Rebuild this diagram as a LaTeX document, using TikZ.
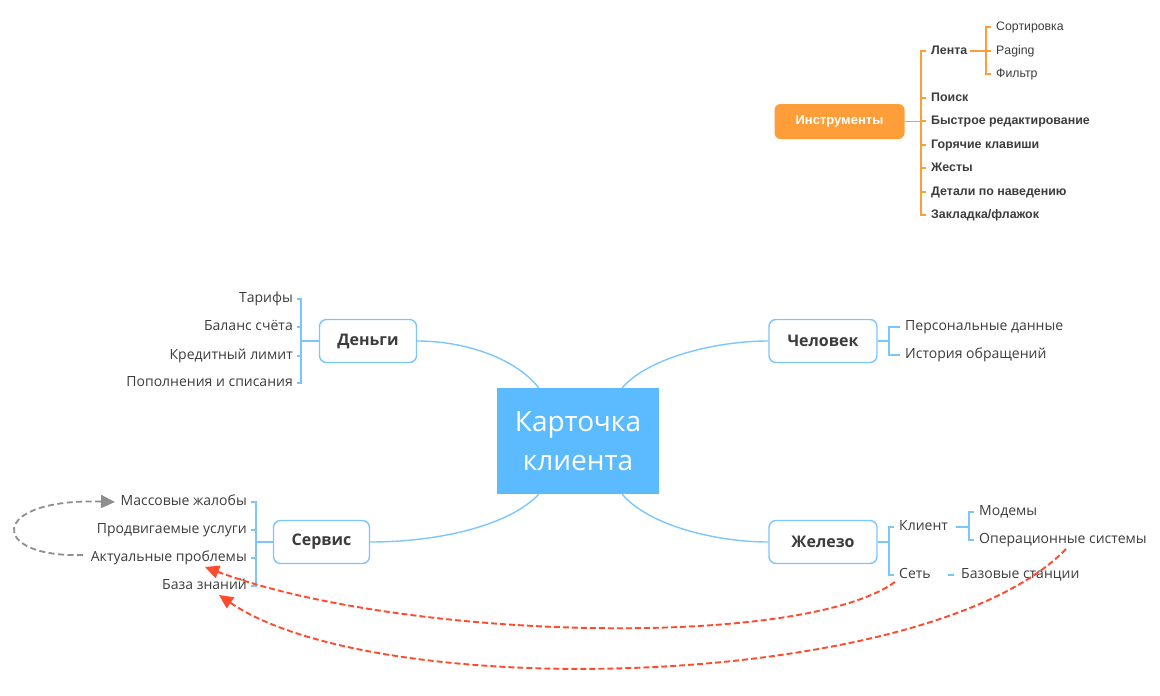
\documentclass[tikz,border=0pt]{standalone}
\usepackage{fontspec}
\setmainfont{Open Sans}
\newfontfamily\arialf{Liberation Sans}
\usetikzlibrary{arrows.meta}
\definecolor{bl}{HTML}{7CC6FF}
\definecolor{blfill}{HTML}{5CBBFF}
\definecolor{txt}{HTML}{3C3C3C}
\definecolor{org}{HTML}{FF9D38}
\definecolor{redl}{HTML}{FF4A2E}
\definecolor{grl}{HTML}{8E8E8E}
\begin{document}
\begin{tikzpicture}[x=1pt,y=-1pt,
  mainbox/.style={draw=bl, line width=1.4pt, rounded corners=7pt, fill=white, minimum height=43pt, text=txt, font=\bfseries\fontsize{16}{18}\selectfont, inner sep=0pt},
  item/.style={inner sep=0pt, text=txt, font=\fontsize{14}{16}\selectfont, text height=0.7em, text depth=0pt},
  oitem/.style={inner sep=0pt, text=txt, font=\arialf\bfseries\fontsize{12.4}{14}\selectfont, text height=0.72em, text depth=0pt},
  osub/.style={inner sep=0pt, text=txt, font=\arialf\fontsize{12.3}{14}\selectfont, text height=0.72em, text depth=0pt},
  bline/.style={draw=bl, line width=1.4pt},
  oline/.style={draw=org, line width=1.4pt},
  reddash/.style={draw=redl, line width=1.9pt, dash pattern=on 6pt off 3pt, -{Triangle[length=14pt,width=13pt]}},
  graydash/.style={draw=grl, line width=1.8pt, dash pattern=on 6pt off 3.5pt, -{Triangle[length=14pt,width=13pt]}}
]
\useasboundingbox (0,0) rectangle (1160,696);

% central
\node[fill=blfill, minimum width=162pt, minimum height=106pt, text=white, font=\fontsize{28}{39}\selectfont, align=center, inner sep=0pt] (card) at (578,441) {Карточка\\клиента};

% main boxes
\node[mainbox, minimum width=97pt] (dengi) at (368,341) {Деньги};
\node[mainbox, minimum width=108pt] (chel) at (823,341) {Человек};
\node[mainbox, minimum width=96pt] (serv) at (321.5,542) {Сервис};
\node[mainbox, minimum width=108pt] (zhel) at (823,542) {Железо};

% connectors from center
\draw[bline] ([xshift=42pt]card.north west) .. controls (515,358) and (465,341) .. (dengi.east);
\draw[bline] ([xshift=-37pt]card.north east) .. controls (648,358) and (715,341) .. (chel.west);
\draw[bline] ([xshift=42pt]card.south west) .. controls (510,525) and (440,542) .. (serv.east);
\draw[bline] ([xshift=-37pt]card.south east) .. controls (648,525) and (715,542) .. (zhel.west);

% Деньги items
\node[item, anchor=east] (d1) at (293,299) {Тарифы};
\node[item, anchor=east] (d2) at (293,327) {Баланс счёта};
\node[item, anchor=east] (d3) at (293,356) {Кредитный лимит};
\node[item, anchor=east] (d4) at (293,383) {Пополнения и списания};
\coordinate (dj) at (301,341);
\draw[bline] (dengi.west) -- (dj);
\draw[bline] ([xshift=4pt]d1.east) -| (dj) |- ([xshift=4pt]d4.east);
\draw[bline] ([xshift=4pt]d2.east) -- (d2.east -| dj);
\draw[bline] ([xshift=4pt]d3.east) -- (d3.east -| dj);

% Человек items
\node[item, anchor=west] (c1) at (905,327) {Персональные данные};
\node[item, anchor=west] (c2) at (905,355) {История обращений};
\coordinate (cj) at (889,341);
\draw[bline] (chel.east) -- (cj);
\draw[bline] ([xshift=-5pt]c1.west) -| (cj) |- ([xshift=-5pt]c2.west);

% Сервис items
\node[item, anchor=east] (s1) at (247,502) {Массовые жалобы};
\node[item, anchor=east] (s2) at (247,530) {Продвигаемые услуги};
\node[item, anchor=east] (s3) at (247,558) {Актуальные проблемы};
\node[item, anchor=east] (s4) at (247,586) {База знаний};
\coordinate (sj) at (256,542);
\draw[bline] (serv.west) -- (sj);
\draw[bline] ([xshift=4pt]s1.east) -| (sj) |- ([xshift=4pt]s4.east);
\draw[bline] ([xshift=4pt]s2.east) -- (s2.east -| sj);
\draw[bline] ([xshift=4pt]s3.east) -- (s3.east -| sj);

% Железо items
\node[item, anchor=west] (z1) at (899,527) {Клиент};
\node[item, anchor=west] (z2) at (899,575) {Сеть};
\coordinate (zj) at (889,542);
\draw[bline] (zhel.east) -- (zj);
\draw[bline] ([xshift=-5pt]z1.west) -| (zj) |- ([xshift=-5pt]z2.west);
\node[item, anchor=west] (k1) at (979,512) {Модемы};
\node[item, anchor=west] (k2) at (979,540) {Операционные системы};
\coordinate (kj) at (969,527);
\draw[bline] (z1.east) ++(8pt,0) -- (kj);
\draw[bline] ([xshift=-5pt]k1.west) -| (kj) |- ([xshift=-5pt]k2.west);
\node[item, anchor=west] (n1) at (961,575) {Базовые станции};
\draw[bline] ([xshift=-13pt]n1.west) -- ([xshift=-7pt]n1.west);

% Инструменты
\node[fill=org, rounded corners=6pt, minimum width=130pt, minimum height=35pt, text=white, font=\arialf\bfseries\fontsize{13}{15}\selectfont, inner sep=0pt] (instr) at (839.5,121.5) {Инструменты};
\node[oitem, anchor=west] (o1) at (931,51) {Лента};
\node[oitem, anchor=west] (o2) at (931,98) {Поиск};
\node[oitem, anchor=west] (o3) at (931,121) {Быстрое редактирование};
\node[oitem, anchor=west] (o4) at (931,145) {Горячие клавиши};
\node[oitem, anchor=west] (o5) at (931,168) {Жесты};
\node[oitem, anchor=west] (o6) at (931,192) {Детали по наведению};
\node[oitem, anchor=west] (o7) at (931,215) {Закладка/флажок};
\coordinate (oj) at (921,121.5);
\draw[oline] (instr.east) -- (oj);
\draw[oline] ([xshift=-5pt]o1.west) -| (oj) |- ([xshift=-5pt]o7.west);
\foreach \i in {2,3,4,5,6} \draw[oline] ([xshift=-5pt]o\i.west) -- (o\i.west -| oj);
\node[osub, anchor=west] (l1) at (996,27) {Сортировка};
\node[osub, anchor=west] (l2) at (996,51) {Paging};
\node[osub, anchor=west] (l3) at (996,74) {Фильтр};
\coordinate (lj) at (986,51);
\draw[oline] ([xshift=3pt]o1.east) -- (lj);
\draw[oline] ([xshift=-5pt]l1.west) -| (lj) |- ([xshift=-5pt]l3.west);
\draw[oline] ([xshift=-5pt]l2.west) -- (lj);

% relation arrows
\coordinate (g0) at (83,555);
\coordinate (g1) at (115,502);
\draw[graydash] (g0) .. controls (-12,558) and (-12,498) .. (g1);
\coordinate (r1s) at (895,582);
\coordinate (r1e) at (205,567);
\draw[reddash] (r1s) .. controls (800,650) and (400,640) .. (r1e);
\coordinate (r2s) at (1066,549);
\coordinate (r2e) at (219,595);
\draw[reddash] (r2s) .. controls (930,690) and (380,705) .. (r2e);
\end{tikzpicture}
\end{document}
